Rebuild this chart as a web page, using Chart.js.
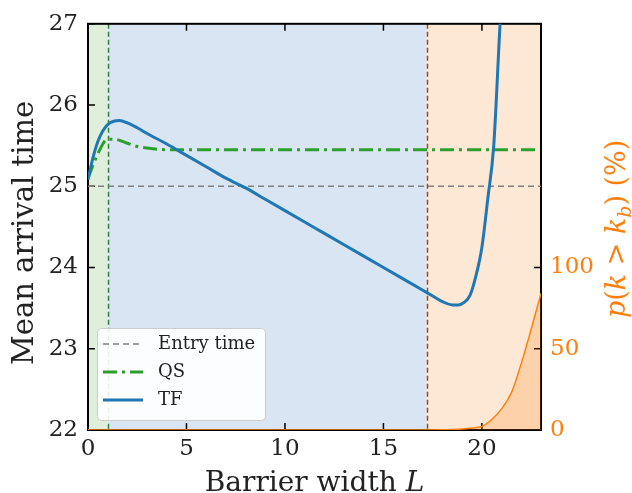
<!DOCTYPE html>
<html>
<head>
<meta charset="utf-8">
<script src="https://cdn.jsdelivr.net/npm/chart.js@4.4.1/dist/chart.umd.min.js"></script>
<style>
  html, body { margin: 0; padding: 0; background: #fff; }
  #wrap { width: 632px; height: 493px; }
</style>
</head>
<body>
<div id="wrap"><canvas id="myChart" width="632" height="493"></canvas></div>
<script>
// barrier width L (x) and mean arrival time
const tfWidth = [0, 0.25, 0.5, 0.75, 1.0, 1.3, 1.6, 2.0, 2.5, 3, 4, 5, 6, 7, 8, 9, 10, 11, 12, 13, 14, 15, 16, 17, 17.5, 18, 18.5, 18.8, 19.1, 19.4, 19.7, 20.0, 20.3, 20.6, 20.9, 21.1];
const tfTime = [25.08, 25.35, 25.55, 25.68, 25.76, 25.80, 25.81, 25.78, 25.72, 25.65, 25.52, 25.38, 25.24, 25.10, 24.98, 24.84, 24.70, 24.56, 24.42, 24.28, 24.14, 24.00, 23.86, 23.72, 23.65, 23.58, 23.54, 23.54, 23.57, 23.66, 23.90, 24.25, 24.85, 25.50, 26.90, 27.80];

const qsWidth = [0, 0.5, 1.0, 1.3, 2, 2.5, 3, 4, 6, 10, 15, 20, 22.7];
const qsTime = [25.10, 25.40, 25.58, 25.58, 25.53, 25.49, 25.47, 25.45, 25.45, 25.45, 25.45, 25.45, 25.45];

const entryWidth = [0, 23];
const entryTime = [25, 25];

const pWidth = [0, 17, 18, 18.5, 19, 19.5, 20, 20.5, 21, 21.5, 22, 22.5, 23];
const pPercent = [0, 0, 0.1, 0.3, 0.6, 1.2, 2.2, 6.5, 13, 23, 41, 62, 84];

// regime boundaries (green | blue | orange shading)
const bandEdges = [0, 1.0, 17.2, 23];

const xTicks = [0, 5, 10, 15, 20];
const yTicks = [22, 23, 24, 25, 26, 27];
const pTicks = [0, 50, 100];

const serif = "'DejaVu Serif', serif";
const orange = '#ff7f0e';

const pts = (xs, ys) => xs.map((v, i) => ({ x: v, y: ys[i] }));

const backdrop = {
    id: 'backdrop',
    beforeDatasetsDraw(chart) {
        const { ctx, chartArea: a, scales: { x, y, y2 } } = chart;
        const colors = ['#dfefdc', '#dae5f4', '#fde8d6'];
        ctx.save();
        colors.forEach((c, i) => {
            const x0 = x.getPixelForValue(bandEdges[i]);
            const x1 = x.getPixelForValue(bandEdges[i + 1]);
            ctx.fillStyle = c;
            ctx.fillRect(x0, a.top, x1 - x0, a.bottom - a.top);
        });
        ctx.lineWidth = 1.5;
        ctx.setLineDash([5, 3]);
        [[bandEdges[1], '#3a7d3a'], [bandEdges[2], '#9a4a1c']].forEach(([v, c]) => {
            const px = Math.round(x.getPixelForValue(v)) + 0.5;
            ctx.strokeStyle = c;
            ctx.beginPath();
            ctx.moveTo(px, a.top);
            ctx.lineTo(px, a.bottom);
            ctx.stroke();
        });
        ctx.setLineDash([]);

        // spines and inward ticks
        ctx.strokeStyle = '#000';
        ctx.lineWidth = 1.5;
        const len = 7;
        ctx.beginPath();
        xTicks.forEach(v => {
            const px = x.getPixelForValue(v);
            ctx.moveTo(px, a.bottom); ctx.lineTo(px, a.bottom - len);
            ctx.moveTo(px, a.top); ctx.lineTo(px, a.top + len);
        });
        yTicks.forEach(v => {
            const py = y.getPixelForValue(v);
            ctx.moveTo(a.left, py); ctx.lineTo(a.left + len, py);
        });
        pTicks.forEach(v => {
            const py = y2.getPixelForValue(v);
            ctx.moveTo(a.right, py); ctx.lineTo(a.right - len, py);
        });
        ctx.stroke();
        ctx.lineWidth = 2;
        ctx.strokeRect(a.left, a.top, a.right - a.left, a.bottom - a.top);
        ctx.restore();
    }
};

const legendBox = {
    id: 'legendBox',
    afterDraw(chart) {
        const { ctx } = chart;
        const items = [
            { label: 'Entry time', color: '#808080', width: 1.5, dash: [6, 4] },
            { label: 'QS', color: '#2ca02c', width: 3, dash: [14, 5, 3, 5] },
            { label: 'TF', color: '#1f77b4', width: 3, dash: [] }
        ];
        ctx.save();
        ctx.fillStyle = 'rgba(255,255,255,0.9)';
        ctx.strokeStyle = '#cccccc';
        ctx.lineWidth = 1;
        ctx.beginPath();
        ctx.roundRect(97.5, 328.5, 168, 92, 4);
        ctx.fill();
        ctx.stroke();
        ctx.font = '18px ' + serif;
        ctx.textBaseline = 'middle';
        items.forEach((it, i) => {
            const yy = 344 + i * 28;
            ctx.strokeStyle = it.color;
            ctx.lineWidth = it.width;
            ctx.setLineDash(it.dash);
            ctx.beginPath();
            ctx.moveTo(103, yy);
            ctx.lineTo(143, yy);
            ctx.stroke();
            ctx.fillStyle = '#222';
            ctx.fillText(it.label, 158, yy);
        });
        ctx.restore();
    }
};

// draws a run of [text, italic, subscript] pieces centred on 0
const drawPieces = (ctx, pieces, size) => {
    const fontFor = p => (p[1] ? 'italic ' : '') + (p[2] ? Math.round(size * 0.7) : size) + 'px ' + serif;
    let total = 0;
    pieces.forEach(p => { ctx.font = fontFor(p); total += ctx.measureText(p[0]).width; });
    let cx = -total / 2;
    pieces.forEach(p => {
        ctx.font = fontFor(p);
        ctx.fillText(p[0], cx, p[2] ? size * 0.22 : 0);
        cx += ctx.measureText(p[0]).width;
    });
};

const titles = {
    id: 'titles',
    afterDraw(chart) {
        const { ctx, chartArea: a } = chart;
        const midY = (a.top + a.bottom) / 2;
        ctx.save();
        ctx.textBaseline = 'alphabetic';
        ctx.textAlign = 'left';

        ctx.fillStyle = '#222';
        ctx.save();
        ctx.translate((a.left + a.right) / 2, 491);
        drawPieces(ctx, [['Barrier width ', false, false], ['L', true, false]], 28);
        ctx.restore();

        ctx.save();
        ctx.translate(33, midY + 6);
        ctx.rotate(-Math.PI / 2);
        drawPieces(ctx, [['Mean arrival time', false, false]], 29);
        ctx.restore();

        ctx.fillStyle = orange;
        ctx.save();
        ctx.translate(625, midY + 2);
        ctx.rotate(-Math.PI / 2);
        drawPieces(ctx, [
            ['p', true, false], ['(', false, false], ['k', true, false], [' > ', false, false],
            ['k', true, false], ['b', true, true], [')', false, false], [' (%)', false, false]
        ], 27);
        ctx.restore();

        ctx.restore();
    }
};

const ctx = document.getElementById('myChart');

new Chart(ctx, {
    type: 'line',
    data: {
        datasets: [
            {
                label: 'Entry time',
                data: pts(entryWidth, entryTime),
                borderColor: '#808080',
                borderWidth: 1.5,
                borderDash: [6, 4],
                pointRadius: 0,
                yAxisID: 'y',
                order: 2
            },
            {
                label: 'QS',
                data: pts(qsWidth, qsTime),
                borderColor: '#2ca02c',
                borderWidth: 3,
                borderDash: [14, 5, 3, 5],
                pointRadius: 0,
                cubicInterpolationMode: 'monotone',
                yAxisID: 'y',
                order: 1
            },
            {
                label: 'TF',
                data: pts(tfWidth, tfTime),
                borderColor: '#1f77b4',
                borderWidth: 3,
                pointRadius: 0,
                cubicInterpolationMode: 'monotone',
                yAxisID: 'y',
                clip: 0,
                order: 0
            },
            {
                label: 'p',
                data: pts(pWidth, pPercent),
                borderColor: orange,
                backgroundColor: 'rgba(255,127,14,0.22)',
                borderWidth: 1.5,
                pointRadius: 0,
                fill: 'origin',
                cubicInterpolationMode: 'monotone',
                yAxisID: 'y2',
                order: 3
            }
        ]
    },
    options: {
        responsive: false,
        animation: false,
        devicePixelRatio: 1,
        layout: { padding: { top: 15, left: 0, right: 0, bottom: 0 } },
        plugins: {
            legend: { display: false },
            tooltip: { enabled: false }
        },
        scales: {
            x: {
                type: 'linear',
                min: 0,
                max: 23,
                afterBuildTicks: s => { s.ticks = xTicks.map(v => ({ value: v })); },
                afterFit: s => { s.height = 63; },
                grid: { display: false, drawTicks: false },
                border: { display: false },
                ticks: { color: '#222', padding: 5, maxRotation: 0, font: { family: serif, size: 23 } }
            },
            y: {
                position: 'left',
                min: 22,
                max: 27,
                afterBuildTicks: s => { s.ticks = yTicks.map(v => ({ value: v })); },
                afterFit: s => { s.width = 88; },
                grid: { display: false, drawTicks: false },
                border: { display: false },
                ticks: { color: '#222', padding: 10, font: { family: serif, size: 23 } }
            },
            y2: {
                position: 'right',
                min: 0,
                max: 250,
                afterBuildTicks: s => { s.ticks = pTicks.map(v => ({ value: v })); },
                afterFit: s => { s.width = 91; },
                grid: { display: false, drawTicks: false },
                border: { display: false },
                ticks: { color: orange, padding: 9, font: { family: serif, size: 23 } }
            }
        }
    },
    plugins: [backdrop, legendBox, titles]
});
</script>
</body>
</html>
